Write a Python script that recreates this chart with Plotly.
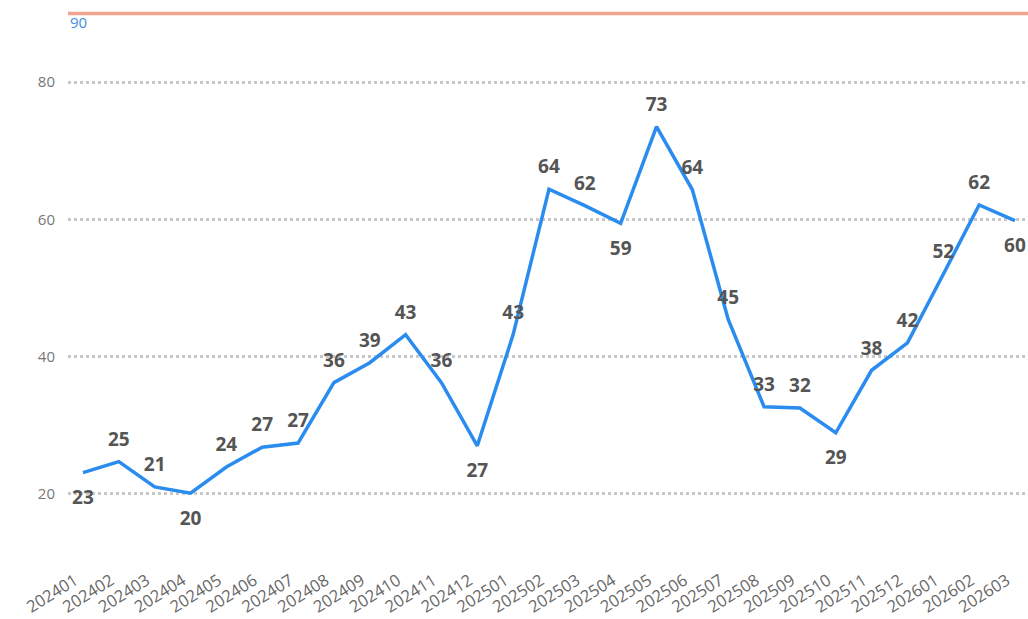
import plotly.graph_objects as go

months = ["202401","202402","202403","202404","202405","202406","202407","202408","202409",
          "202410","202411","202412","202501","202502","202503","202504","202505","202506",
          "202507","202508","202509","202510","202511","202512","202601","202602","202603"]
values = [23.1, 24.7, 21.0, 20.1, 23.9, 26.8, 27.4, 36.2, 39.1,
          43.2, 36.2, 27.0, 43.2, 64.4, 62.0, 59.4, 73.5, 64.3,
          45.4, 32.7, 32.5, 28.9, 38.0, 42.0, 52.0, 62.1, 59.8]
labels = ["23","25","21","20","24","27","27","36","39","43","36","27","43","64","62","59",
          "73","64","45","33","32","29","38","42","52","62","60"]
label_pos = ["bottom center","top center","top center","bottom center","top center","top center",
             "top center","top center","top center","top center","top center","bottom center",
             "top center","top center","top center","bottom center","top center","top center",
             "top center","top center","top center","bottom center","top center","top center",
             "top center","top center","bottom center"]
target_value = 90

idx = list(range(len(months)))
marker_sizes = [26 if p.startswith("bottom") else 16 for p in label_pos]

fig = go.Figure()
fig.add_trace(go.Scatter(
    x=idx, y=values, mode="lines+markers+text",
    line=dict(color="#2A8CEE", width=3.5),
    marker=dict(size=marker_sizes, color="rgba(0,0,0,0)", line=dict(width=0, color="rgba(0,0,0,0)")),
    text=labels, textposition=label_pos,
    textfont=dict(family="Open Sans", size=19, color="#555555", weight="bold"),
    cliponaxis=False, hoverinfo="skip", showlegend=False,
))

fig.add_shape(type="line", xref="paper", yref="y", x0=0, x1=1, y0=target_value, y1=target_value,
              line=dict(color="#F2A58E", width=3.5))
fig.add_annotation(xref="paper", yref="y", x=0.0, y=target_value, text=str(target_value),
                   showarrow=False, xanchor="left", yanchor="top", yshift=3,
                   font=dict(family="Open Sans", size=15, color="#3D8FDB"))

fig.update_layout(
    width=1028, height=619,
    margin=dict(l=68, r=0, t=10, b=84),
    paper_bgcolor="white", plot_bgcolor="white",
    xaxis=dict(
        range=[-0.418, 26.363], tickmode="array", tickvals=idx, ticktext=months,
        tickangle=-32, showgrid=False, zeroline=False, showline=False,
        tickfont=dict(family="Open Sans", size=16.5, color="#666666"),
        ticklabelstandoff=32, ticklabelshift=-8,
    ),
    yaxis=dict(
        range=[14, 90.5], tickvals=[20, 40, 60, 80], showgrid=True,
        gridcolor="#C8C8C8", griddash="dot", gridwidth=2.5, zeroline=False, showline=False,
        tickfont=dict(family="Open Sans", size=15, color="#777777"), ticklabelstandoff=12,
    ),
)

fig.write_html("out.html", config={"displayModeBar": False},
               post_script="document.body.style.margin='0';document.body.style.overflow='hidden';")
